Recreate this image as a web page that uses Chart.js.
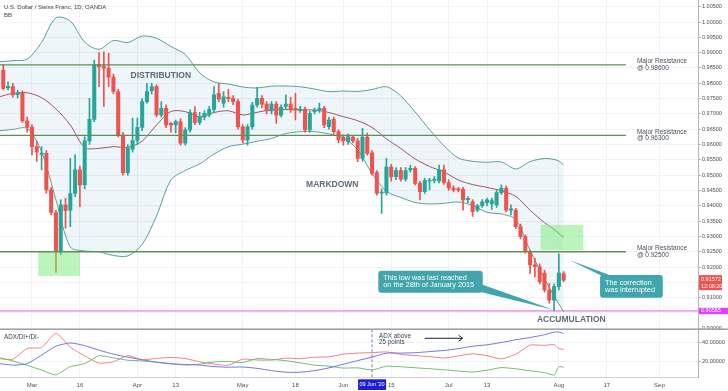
<!DOCTYPE html>
<html>
<head>
<meta charset="utf-8">
<script src="https://cdn.jsdelivr.net/npm/chart.js@4.4.0/dist/chart.umd.min.js"></script>
<style>
  html, body { margin: 0; padding: 0; background: #fff; }
  #wrap { width: 728px; height: 391px; }
</style>
</head>
<body>
<div id="wrap"><canvas id="chart" width="728" height="391"></canvas></div>
<script>
// USD/CHF daily, bar index 1 = 21 Feb 2020 (weekdays only)
const firstBar = 1;
const opens = [0.9843,0.9785,0.9789,0.9763,0.9769,0.9677,0.9656,0.9593,0.9568,0.9571,0.9452,0.9378,0.9250,0.9403,0.9386,0.9440,0.9517,0.9468,0.9612,0.9682,
  0.9862,0.9856,0.9849,0.9820,0.9773,0.9631,0.9508,0.9585,0.9613,0.9656,0.9740,0.9776,0.9789,0.9697,0.9718,0.9669,0.9664,0.9675,0.9604,0.9648,
  0.9704,0.9672,0.9689,0.9697,0.9715,0.9767,0.9735,0.9754,0.9751,0.9740,0.9658,0.9615,0.9658,0.9729,0.9751,0.9732,0.9710,0.9732,0.9696,0.9724,
  0.9732,0.9718,0.9711,0.9715,0.9648,0.9707,0.9713,0.9718,0.9658,0.9682,0.9642,0.9624,0.9609,0.9624,0.9612,0.9555,0.9624,0.9573,0.9508,0.9441,
  0.9443,0.9526,0.9495,0.9515,0.9487,0.9517,0.9522,0.9473,0.9446,0.9481,0.9483,0.9481,0.9517,0.9476,0.9458,0.9454,0.9454,0.9420,0.9413,0.9386,
  0.9400,0.9410,0.9406,0.9403,0.9443,0.9457,0.9386,0.9386,0.9332,0.9299,0.9250,0.9207,0.9201,0.9180,0.9125,0.9092,0.9136,0.9178];
const highs = [0.9860,0.9805,0.9800,0.9778,0.9775,0.9690,0.9665,0.9610,0.9593,0.9580,0.9460,0.9385,0.9419,0.9425,0.9555,0.9566,0.9530,0.9625,0.9751,0.9876,
  0.9900,0.9903,0.9898,0.9830,0.9780,0.9640,0.9600,0.9686,0.9686,0.9750,0.9800,0.9800,0.9795,0.9740,0.9730,0.9672,0.9680,0.9685,0.9655,0.9713,
  0.9724,0.9705,0.9710,0.9725,0.9789,0.9800,0.9773,0.9780,0.9760,0.9748,0.9665,0.9665,0.9738,0.9787,0.9760,0.9740,0.9740,0.9740,0.9730,0.9762,
  0.9754,0.9767,0.9725,0.9722,0.9708,0.9720,0.9735,0.9725,0.9690,0.9690,0.9648,0.9632,0.9635,0.9630,0.9620,0.9653,0.9637,0.9580,0.9515,0.9455,
  0.9555,0.9535,0.9525,0.9525,0.9525,0.9532,0.9528,0.9480,0.9490,0.9490,0.9495,0.9533,0.9533,0.9485,0.9465,0.9460,0.9460,0.9430,0.9420,0.9405,
  0.9420,0.9425,0.9425,0.9450,0.9468,0.9465,0.9403,0.9392,0.9340,0.9305,0.9255,0.9228,0.9210,0.9190,0.9147,0.9145,0.9243,0.9185];
const lows = [0.9778,0.9778,0.9755,0.9752,0.9672,0.9640,0.9566,0.9545,0.9517,0.9440,0.9370,0.9182,0.9240,0.9327,0.9332,0.9430,0.9397,0.9455,0.9600,0.9675,
  0.9789,0.9724,0.9789,0.9765,0.9625,0.9500,0.9500,0.9575,0.9600,0.9645,0.9735,0.9765,0.9690,0.9690,0.9655,0.9640,0.9638,0.9598,0.9598,0.9640,
  0.9665,0.9665,0.9680,0.9690,0.9705,0.9740,0.9722,0.9740,0.9730,0.9650,0.9605,0.9598,0.9650,0.9722,0.9720,0.9700,0.9700,0.9669,0.9690,0.9715,
  0.9705,0.9680,0.9705,0.9640,0.9640,0.9700,0.9705,0.9655,0.9650,0.9635,0.9605,0.9598,0.9600,0.9605,0.9544,0.9545,0.9565,0.9500,0.9435,0.9375,
  0.9435,0.9480,0.9485,0.9480,0.9480,0.9510,0.9468,0.9419,0.9440,0.9452,0.9475,0.9475,0.9470,0.9450,0.9445,0.9445,0.9386,0.9410,0.9365,0.9380,
  0.9395,0.9400,0.9388,0.9395,0.9437,0.9380,0.9370,0.9325,0.9292,0.9245,0.9179,0.9168,0.9145,0.9118,0.9082,0.9057,0.9125,0.9152];
const closes = [0.9783,0.9790,0.9762,0.9768,0.9677,0.9656,0.9593,0.9575,0.9572,0.9452,0.9378,0.9250,0.9403,0.9384,0.9440,0.9517,0.9468,0.9612,0.9682,0.9862,
  0.9854,0.9849,0.9820,0.9773,0.9631,0.9508,0.9588,0.9613,0.9656,0.9740,0.9773,0.9789,0.9697,0.9718,0.9664,0.9664,0.9675,0.9604,0.9648,0.9704,
  0.9672,0.9690,0.9702,0.9715,0.9762,0.9748,0.9756,0.9750,0.9740,0.9658,0.9615,0.9658,0.9729,0.9751,0.9732,0.9710,0.9732,0.9696,0.9722,0.9732,
  0.9715,0.9713,0.9716,0.9648,0.9702,0.9712,0.9718,0.9664,0.9680,0.9642,0.9615,0.9612,0.9626,0.9612,0.9555,0.9624,0.9571,0.9506,0.9441,0.9445,
  0.9526,0.9495,0.9515,0.9487,0.9515,0.9522,0.9473,0.9446,0.9482,0.9484,0.9487,0.9517,0.9476,0.9458,0.9452,0.9452,0.9419,0.9424,0.9381,0.9400,
  0.9413,0.9419,0.9417,0.9443,0.9457,0.9386,0.9390,0.9332,0.9299,0.9250,0.9207,0.9201,0.9152,0.9125,0.9092,0.9136,0.9180,0.91572];

// Bollinger bands and ADX/DI lines, read at these bar indexes
const bandAt = [0,3,6,9,12,15,18,21,24,27,30,33,36,39,42,45,48,51,54,57,60,63,66,69,72,75,78,81,84,87,90,93,96,99,102,105,108,111,114,116,117,118];
const bbUpper = [0.98695,0.98740,0.98786,0.99335,1.00138,1.00033,0.99344,0.99109,0.99397,0.99331,0.99544,0.99469,0.99201,0.98940,0.98339,0.98042,0.97976,0.97879,0.97846,0.97905,0.97911,
  0.97885,0.97813,0.97728,0.97748,0.97732,0.97797,0.97888,0.97585,0.97062,0.96487,0.95962,0.95560,0.95452,0.95423,0.95430,0.95201,0.95443,0.95544,0.95511,0.95462,0.95332];
const bbBasis = [0.97552,0.97669,0.97689,0.97529,0.97160,0.96638,0.95903,0.95874,0.95929,0.95910,0.96109,0.96638,0.97078,0.97075,0.96899,0.97046,0.97101,0.96964,0.97052,0.97134,0.97144,
  0.97127,0.97127,0.97046,0.96909,0.96778,0.96556,0.96187,0.95870,0.95528,0.95283,0.95103,0.94842,0.94692,0.94600,0.94489,0.94307,0.93853,0.93448,0.93226,0.93095,0.92965];
const bbLower = [0.96442,0.96494,0.96523,0.95772,0.94189,0.92654,0.92524,0.92497,0.92377,0.92361,0.92736,0.93667,0.94842,0.95152,0.95364,0.95691,0.95929,0.96011,0.96106,0.96197,0.96360,
  0.96419,0.96419,0.96344,0.96220,0.95822,0.95054,0.94473,0.94271,0.94107,0.94058,0.94081,0.94124,0.94009,0.93784,0.93732,0.93552,0.92537,0.91610,0.91055,0.90793,0.90532];
const adx = [18.3,16.5,18.1,27.1,36.5,39.9,37.1,32.3,28.1,24.9,22.1,19.7,17.8,17.2,16.5,15.0,14.3,14.5,13.1,10.7,9.0,
  9.0,10.7,13.6,17.4,21.3,24.9,29.2,29.2,29.6,30.8,32.0,33.9,36.5,38.0,40.4,43.3,45.7,48.6,51.4,51.5,49.9];
const diPlus = [24.6,20.9,16.2,11.3,6.2,14.9,18.1,26.4,24.1,21.7,20.9,19.5,18.1,16.6,17.6,19.9,20.4,19.2,23.4,22.5,21.2,
  18.9,16.4,15.4,13.4,13.6,11.4,15.3,14.8,13.7,12.7,11.6,10.3,9.2,11.1,13.9,12.6,10.5,8.6,6.0,14.9,14.1];
const diMinus = [23.4,22.8,34.1,35.2,50.2,35.5,26.3,18.6,20.1,26.5,22.2,23.6,24.6,23.4,20.0,17.6,16.5,22.8,21.9,21.8,23.9,
  23.2,24.9,25.2,28.1,29.2,29.7,30.5,27.8,26.6,25.5,24.0,26.2,28.5,26.5,23.1,28.1,37.6,37.4,38.1,34.1,33.1];

// axes
const timeTicks = [7,17,29,37,51,62,72,82,94,102,117,127,138];
const timeLabels = ['Mar','16','Apr','13','May','18','Jun','15','Jul','13','Aug','17','Sep'];
const priceTicks = [0.900,0.905,0.910,0.915,0.920,0.925,0.930,0.935,0.940,0.945,0.950,0.955,0.960,0.965,0.970,0.975,0.980,0.985,0.990,0.995,1.000,1.005];
const adxTicks = [20,40];

// levels
const resistances = [0.986, 0.963, 0.925];
const lowLevel = 0.90565;
const lastPrice = 0.91572;
const markedBar = 78; // 09 Jun '20

const FONT = "'Liberation Sans', Arial, sans-serif";
const UP = '#26a69a', DOWN = '#ef5350';
const isUp = k => closes[k] >= opens[k];
const pts = arr => bandAt.map((i, k) => ({x: i, y: arr[k]}));

const notes = {
  id: 'notes',
  afterDatasetsDraw(chart) {
    const {ctx, chartArea: ca} = chart;
    const sx = chart.scales.x, sy = chart.scales.y, sa = chart.scales.yAdx;
    const X = v => sx.getPixelForValue(v), Y = v => sy.getPixelForValue(v);
    ctx.save();

    // green zones
    ctx.fillStyle = 'rgba(120,235,120,0.5)';
    ctx.fillRect(X(8.32), Y(0.92501), X(17.02) - X(8.32), Y(0.91708) - Y(0.92501));
    ctx.fillRect(X(113.2), Y(0.93373), X(122.1) - X(113.2), Y(0.92557) - Y(0.93373));

    // resistance lines + labels
    ctx.strokeStyle = '#5e8f55';
    ctx.lineWidth = 1.4;
    ctx.fillStyle = '#4a4f57';
    ctx.font = '6.5px ' + FONT;
    ctx.textBaseline = 'middle';
    ctx.textAlign = 'left';
    resistances.forEach(r => {
      const yy = Y(r);
      ctx.beginPath(); ctx.moveTo(ca.left, yy); ctx.lineTo(X(131), yy); ctx.stroke();
      ctx.fillText('Major Resistance', X(133.3), yy - 3.3);
      ctx.fillText('@ ' + r.toFixed(5), X(133.3), yy + 3.1);
    });

    // magenta low line
    ctx.strokeStyle = '#e05ce8';
    ctx.lineWidth = 1;
    ctx.beginPath(); ctx.moveTo(ca.left, Y(lowLevel)); ctx.lineTo(ca.right, Y(lowLevel)); ctx.stroke();

    // phase labels
    ctx.font = 'bold 8.5px ' + FONT;
    ctx.fillStyle = '#5f6b78';
    ctx.textAlign = 'center';
    ctx.fillText('DISTRIBUTION', X(33.9), Y(0.98238));
    ctx.fillText('MARKDOWN', X(69.7), Y(0.94689));
    ctx.fillText('ACCUMULATION', X(119.6), Y(0.90278));

    // callouts
    const callout = (i0, i1, p0, p1, lines, tail) => {
      const l = X(i0), r = X(i1), t = Y(p0), b = Y(p1);
      ctx.fillStyle = '#40a5ac';
      ctx.beginPath();
      ctx.moveTo(tail[0][0], tail[0][1]); ctx.lineTo(tail[1][0], tail[1][1]); ctx.lineTo(tail[2][0], tail[2][1]);
      ctx.closePath(); ctx.fill();
      ctx.beginPath(); ctx.roundRect(l, t, r - l, b - t, 3); ctx.fill();
      ctx.fillStyle = '#fff';
      ctx.font = '7.3px ' + FONT;
      ctx.textAlign = 'left';
      const mid = (t + b) / 2;
      ctx.fillText(lines[0], l + 5, mid - 3.4);
      ctx.fillText(lines[1], l + 5, mid + 3.4);
    };
    {
      const r = X(101.1), b = Y(0.91163);
      callout(79.3, 101.1, 0.91881, 0.91163, ['This low was last reached', 'on the 28th of January 2015'],
        [[r - 3, b - 9], [r - 3, b - 1], [X(116), Y(0.90597)]]);
      const l = X(125.6), t = Y(0.91740);
      callout(125.6, 138.7, 0.91740, 0.90999, ['The correction', 'was interrupted'],
        [[l + 2, t + 1], [l + 12, t + 1], [X(119.2), Y(0.9223)]]);
    }

    // ADX pane decorations
    const top = sa.top, bot = sa.bottom;
    ctx.strokeStyle = '#7a7ac0';
    ctx.setLineDash([3, 2]);
    ctx.beginPath(); ctx.moveTo(X(markedBar), top); ctx.lineTo(X(markedBar), bot); ctx.stroke();
    ctx.setLineDash([]);

    ctx.fillStyle = '#3a3f47';
    ctx.font = '6.3px ' + FONT;
    ctx.textAlign = 'left';
    ctx.fillText('ADX/DI+/DI-', 4, top + 8);
    ctx.fillText('ADX above', X(markedBar) + 7, top + 7);
    ctx.fillText('25 points', X(markedBar) + 7, top + 13.4);

    const ay = top + 9, ax0 = X(89), ax1 = X(96.9);
    ctx.strokeStyle = '#222';
    ctx.lineWidth = 1;
    ctx.beginPath();
    ctx.moveTo(ax0, ay); ctx.lineTo(ax1, ay);
    ctx.moveTo(ax1 - 4, ay - 3); ctx.lineTo(ax1, ay); ctx.lineTo(ax1 - 4, ay + 3);
    ctx.stroke();
    ctx.restore();
  },
  afterDraw(chart) {
    const {ctx, chartArea: ca} = chart;
    const sx = chart.scales.x, sy = chart.scales.y, sa = chart.scales.yAdx;
    ctx.save();
    // pane separator
    ctx.strokeStyle = '#9da1a8';
    ctx.lineWidth = 1.5;
    ctx.beginPath(); ctx.moveTo(0, sa.top); ctx.lineTo(chart.width, sa.top); ctx.stroke();

    ctx.font = '5.5px ' + FONT;
    ctx.textBaseline = 'middle';
    ctx.textAlign = 'left';
    // last price tag
    const ly = sy.getPixelForValue(lastPrice);
    ctx.fillStyle = DOWN;
    ctx.fillRect(ca.right + 1, ly - 5, 23, 15);
    ctx.fillStyle = '#fff';
    ctx.fillText(lastPrice.toFixed(5), ca.right + 3, ly - 0.5);
    ctx.fillText('12:08:20', ca.right + 3, ly + 6.5);
    // low tag
    const my = sy.getPixelForValue(lowLevel);
    ctx.fillStyle = '#e040fb';
    ctx.fillRect(ca.right + 1, my - 3.2, 29, 6.4);
    ctx.fillStyle = '#fff';
    ctx.fillText(lowLevel.toFixed(5), ca.right + 3, my);
    // marked date tag
    const dx = sx.getPixelForValue(markedBar);
    ctx.fillStyle = '#1f1fd6';
    ctx.fillRect(dx - 14, ca.bottom + 1.6, 28, 10.7);
    ctx.fillStyle = '#fff';
    ctx.textAlign = 'center';
    ctx.fillText("09 Jun '20", dx, ca.bottom + 7);
    // header
    ctx.fillStyle = '#3a3f47';
    ctx.textAlign = 'left';
    ctx.font = '6px ' + FONT;
    ctx.fillText('U.S. Dollar / Swiss Franc, 1D, OANDA', 4, 7.3);
    ctx.fillText('BB', 4, 15.3);
    ctx.restore();
  }
};

const noPad = s => { s.paddingTop = 0; s.paddingBottom = 0; s.paddingLeft = 0; s.paddingRight = 0; };

new Chart(document.getElementById('chart'), {
  type: 'bar',
  data: {
    datasets: [
      { type: 'bar', label: 'body', yAxisID: 'y', order: 0, grouped: false,
        data: opens.map((o, k) => ({x: k + firstBar, y: [o, closes[k]]})),
        backgroundColor: c => isUp(c.dataIndex) ? UP : DOWN,
        barThickness: 3.4, minBarLength: 1, borderWidth: 0 },
      { type: 'bar', label: 'wick', yAxisID: 'y', order: 1, grouped: false,
        data: lows.map((l, k) => ({x: k + firstBar, y: [l, highs[k]]})),
        backgroundColor: c => isUp(c.dataIndex) ? UP : DOWN,
        barThickness: 1, borderWidth: 0 },
      { type: 'line', label: 'upper', yAxisID: 'y', order: 3, data: pts(bbUpper),
        borderColor: '#5c9e98', borderWidth: 1, pointRadius: 0, tension: 0.3,
        fill: '+2', backgroundColor: 'rgba(120,185,205,0.12)' },
      { type: 'line', label: 'basis', yAxisID: 'y', order: 2, data: pts(bbBasis),
        borderColor: '#9a5a5a', borderWidth: 1, pointRadius: 0, tension: 0.3, fill: false },
      { type: 'line', label: 'lower', yAxisID: 'y', order: 3, data: pts(bbLower),
        borderColor: '#5c9e98', borderWidth: 1, pointRadius: 0, tension: 0.3, fill: false },
      { type: 'line', label: 'ADX', yAxisID: 'yAdx', order: 4, data: pts(adx),
        borderColor: '#7373f0', borderWidth: 1, pointRadius: 0, tension: 0.2, fill: false },
      { type: 'line', label: 'DI+', yAxisID: 'yAdx', order: 4, data: pts(diPlus),
        borderColor: '#6cbf70', borderWidth: 1, pointRadius: 0, tension: 0.2, fill: false },
      { type: 'line', label: 'DI-', yAxisID: 'yAdx', order: 4, data: pts(diMinus),
        borderColor: '#f28080', borderWidth: 1, pointRadius: 0, tension: 0.2, fill: false }
    ]
  },
  options: {
    responsive: false,
    animation: false,
    devicePixelRatio: 1,
    layout: { padding: 0 },
    plugins: { legend: { display: false }, tooltip: { enabled: false } },
    scales: {
      x: {
        type: 'linear', min: 0.32, max: 146.05, offset: false,
        grid: { color: '#eff2f7', offset: false, drawTicks: false },
        border: { color: '#d1d4dc' },
        ticks: { font: { size: 6, family: FONT }, color: '#4a4f57', padding: 4, maxRotation: 0, autoSkip: false,
          callback: (v, i) => timeLabels[i] },
        afterBuildTicks: s => { s.ticks = timeTicks.map(v => ({value: v})); },
        afterFit: s => { s.height = 13.3; noPad(s); }
      },
      y: {
        position: 'right', stack: 'pane', stackWeight: 6.8,
        min: 0.89967, max: 1.00719,
        grid: { color: '#eff2f7', tickLength: 3, tickColor: '#b2b5be' },
        border: { color: '#b2b5be' },
        ticks: { font: { size: 5.5, family: FONT }, color: '#4a4f57', padding: 1, autoSkip: false, callback: v => v.toFixed(5) },
        afterBuildTicks: s => { s.ticks = priceTicks.map(v => ({value: v})); },
        afterFit: s => { s.width = 30; noPad(s); }
      },
      yAdx: {
        position: 'right', stack: 'pane', stackWeight: 1,
        min: 3.2, max: 54.4,
        grid: { color: '#eff2f7', tickLength: 3, tickColor: '#b2b5be' },
        border: { color: '#b2b5be' },
        ticks: { font: { size: 5.5, family: FONT }, color: '#4a4f57', padding: 1, autoSkip: false, callback: v => v.toFixed(5) },
        afterBuildTicks: s => { s.ticks = adxTicks.map(v => ({value: v})); },
        afterFit: s => { s.width = 30; noPad(s); }
      }
    }
  },
  plugins: [notes]
});
</script>
</body>
</html>
